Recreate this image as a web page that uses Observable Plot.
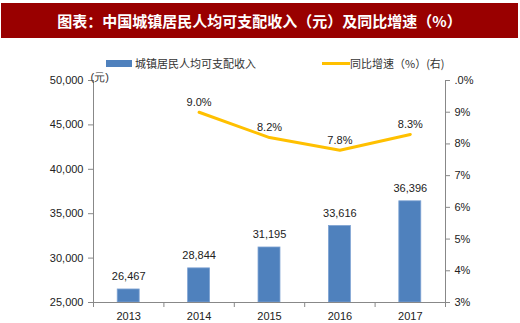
<!DOCTYPE html>
<html><head><meta charset="utf-8">
<script src="https://cdn.jsdelivr.net/npm/d3@7"></script>
<script src="https://cdn.jsdelivr.net/npm/@observablehq/plot@0.6"></script>
<style>
body{margin:0;background:#fff;}
#wrap{position:relative;width:520px;height:323px;overflow:hidden;font-family:"Liberation Sans",Arial,sans-serif;}
#title{position:absolute;left:1px;top:3px;width:517px;height:35px;background:#990000;color:#fff;font-family:"Noto Sans CJK SC",sans-serif;font-weight:bold;font-size:15px;line-height:35px;text-align:center;z-index:2;}
.leg{position:absolute;top:55px;font-family:"Noto Sans CJK SC",sans-serif;font-size:11px;color:#333;z-index:2;display:flex;align-items:center;}
#plot{position:absolute;left:0;top:0;}
</style></head>
<body>
<div id="wrap">
<div id="title">图表：中国城镇居民人均可支配收入（元）及同比增速（%）</div>
<div class="leg" style="left:106px"><span style="display:inline-block;width:26px;height:7px;background:#4F81BD;margin-right:3px"></span>城镇居民人均可支配收入</div>
<div class="leg" style="left:322px"><span style="display:inline-block;width:28px;height:3px;background:#FFC000;margin-right:0px"></span>同比增速（%）(右)</div>
<div id="plot"></div>
</div>
<script>
const years = [2013, 2014, 2015, 2016, 2017];
const income = [26467, 28844, 31195, 33616, 36396];
const growthYears = [2014, 2015, 2016, 2017];
const growth = [9.0, 8.2, 7.8, 8.3];
const leftTicks = [25000, 30000, 35000, 40000, 45000, 50000];
const rightTicks = [3, 4, 5, 6, 7, 8, 9, 10];
const rightTickLabels = ["3%", "4%", "5%", "6%", "7%", "8%", "9%", ".0%"];

const yMin = 25000, yMax = 50000, pMin = 3, pMax = 10;
const toY = p => yMin + (p - pMin) / (pMax - pMin) * (yMax - yMin);

const bars = years.map((y, i) => ({year: y, value: income[i]}));
const line = growthYears.map((y, i) => ({year: y, g: growth[i], v: toY(growth[i])}));
const bounds = [2012.5, 2013.5, 2014.5, 2015.5, 2016.5, 2017.5];
const fmt = d3.format(",");
const half = 0.156;

const chart = Plot.plot({
  width: 520, height: 323,
  marginTop: 80, marginBottom: 21, marginLeft: 93, marginRight: 75,
  style: {fontFamily: "'Liberation Sans', Arial, sans-serif", fontSize: "11px", color: "#333", background: "transparent"},
  x: {type: "linear", domain: [2012.5, 2017.5]},
  y: {domain: [yMin, yMax]},
  marks: [
    Plot.rectY(bars, {x1: d => d.year - half, x2: d => d.year + half, y1: yMin, y2: "value", fill: "#4F81BD", stroke: "#7FA3D3", strokeWidth: 0.8}),
    Plot.text(bars, {x: "year", y: "value", text: d => fmt(d.value), dy: -13, fill: "#222", fontSize: 11}),
    Plot.line(line, {x: "year", y: "v", stroke: "#FFC000", strokeWidth: 3}),
    Plot.text(line, {x: "year", y: "v", text: d => d.g.toFixed(1) + "%", dy: -10, fill: "#222", fontSize: 11}),
    Plot.ruleX([2012.5, 2017.5], {y1: yMin, y2: yMax, stroke: "#888"}),
    Plot.ruleY([yMin], {x1: 2012.5, x2: 2017.5, stroke: "#888", insetLeft: -5, insetRight: -5}),
    Plot.axisY({ticks: leftTicks, tickFormat: d => fmt(d), tickSize: 5, tickPadding: 5, label: null, stroke: "#888", fill: "#222"}),
    Plot.axisY({anchor: "right", ticks: rightTicks.map(toY), tickFormat: (d, i) => rightTickLabels[i], tickSize: 4, tickPadding: 5, label: null, stroke: "#888", fill: "#222"}),
    Plot.axisX({ticks: bounds, tickFormat: () => "", tickSize: 5, label: null, stroke: "#888"}),
    Plot.axisX({ticks: years, tickFormat: d => String(d), tickSize: 0, tickPadding: 10, label: null, fill: "#222"}),
    Plot.text(["(元)"], {frameAnchor: "top-left", dx: -3, dy: -7, text: d => d, fill: "#333", fontSize: 11, textAnchor: "start"})
  ]
});
document.getElementById("plot").appendChild(chart);
</script>
</body></html>
